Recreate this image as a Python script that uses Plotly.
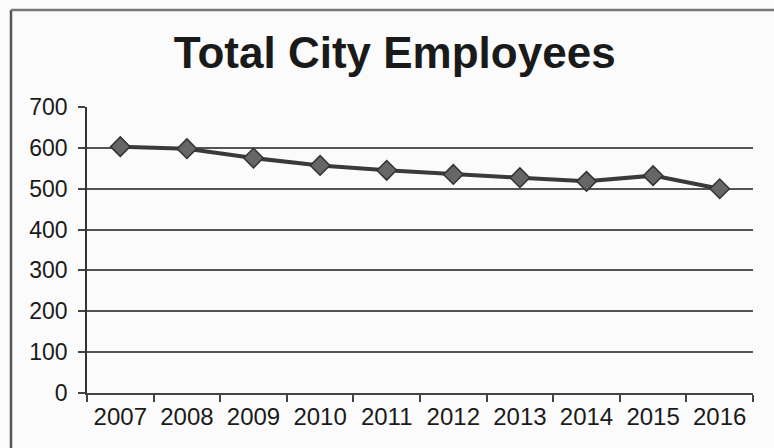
import plotly.graph_objects as go

years = ["2007", "2008", "2009", "2010", "2011", "2012", "2013", "2014", "2015", "2016"]
employees = [603, 598, 575, 557, 545, 535, 527, 518, 532, 500]
y_ticks = [0, 100, 200, 300, 400, 500, 600, 700]

# plot-area geometry in pixels, used for the outer frame lines
W, H = 774, 448
ML, MR, MT, MB = 87, 21, 107, 55
PW, PH = W - ML - MR, H - MT - MB


def px_x(x):
    return (x - ML) / PW


def px_y(y):
    return (H - MB - y) / PH


fig = go.Figure(
    go.Scatter(
        x=years,
        y=employees,
        mode="lines+markers",
        line=dict(color="#3a3a3a", width=4),
        marker=dict(symbol="diamond", size=15, color="#666666",
                    line=dict(color="#333333", width=1.5)),
        hoverinfo="x+y",
    )
)

fig.update_layout(
    width=W,
    height=H,
    margin=dict(l=ML, r=MR, t=MT, b=MB),
    paper_bgcolor="#fbfbfb",
    plot_bgcolor="#fbfbfb",
    showlegend=False,
    font=dict(family="Liberation Sans, Arial, sans-serif", color="#1a1a1a"),
    title=dict(
        text="<b>Total City Employees</b>",
        x=0.51, xanchor="center",
        y=0.882, yanchor="middle",
        font=dict(size=44, family="Liberation Sans, Arial", color="#1a1a1a"),
    ),
    xaxis=dict(
        type="category",
        range=[-0.5, len(years) - 0.5],
        tickson="boundaries",
        ticks="outside",
        ticklen=7,
        tickwidth=1.5,
        tickcolor="#444",
        showline=True,
        linecolor="#444",
        linewidth=1.5,
        showgrid=False,
        tickfont=dict(size=24),
        ticklabelstandoff=1,
    ),
    yaxis=dict(
        range=[0, 700],
        tickvals=y_ticks,
        ticks="outside",
        ticklen=7,
        tickwidth=1.5,
        tickcolor="#444",
        showline=True,
        linecolor="#333",
        linewidth=1.5,
        showgrid=True,
        gridcolor="#555",
        gridwidth=1.5,
        zeroline=False,
        tickfont=dict(size=23),
        ticklabelstandoff=6,
    ),
)

# outer chart frame: left and top edges
fig.add_shape(type="line", xref="paper", yref="paper",
              x0=px_x(11), x1=px_x(11), y0=px_y(H + 2), y1=px_y(10),
              line=dict(color="#555", width=2.5))
fig.add_shape(type="line", xref="paper", yref="paper",
              x0=px_x(11), x1=px_x(W + 2), y0=px_y(10), y1=px_y(10),
              line=dict(color="#777", width=2.5))

fig.write_html("out.html")
